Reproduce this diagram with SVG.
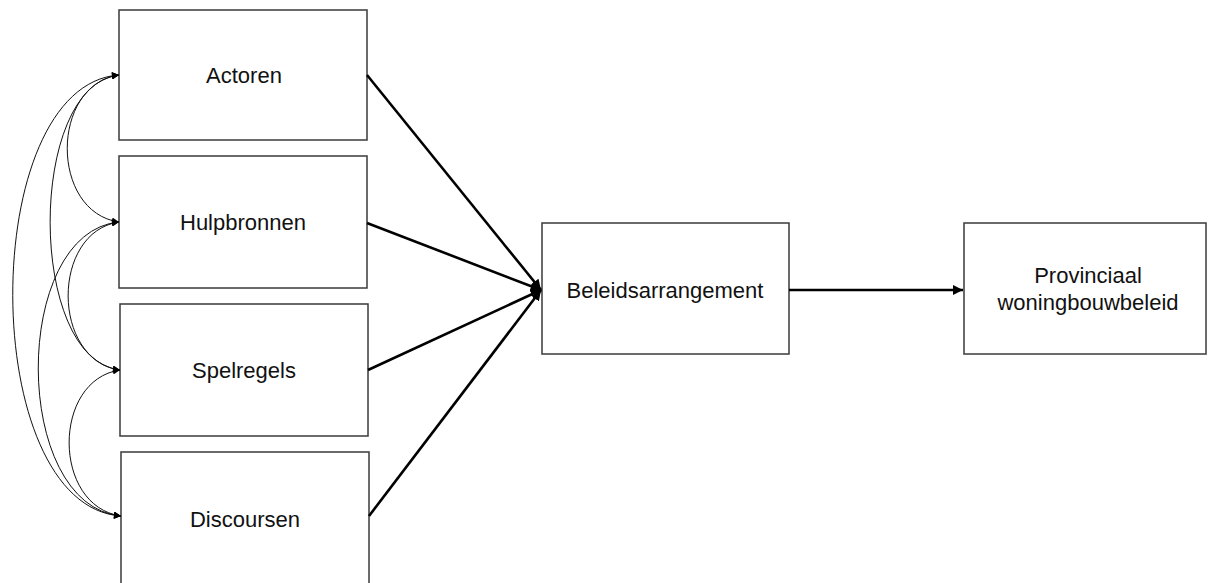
<svg xmlns="http://www.w3.org/2000/svg" width="1208" height="583" viewBox="0 0 1208 583">
<defs>
<style>
.box{fill:#fff;stroke:#3a3a3a;stroke-width:1.5}
.lbl{font-family:"Liberation Sans",Arial,sans-serif;font-size:22px;fill:#111;text-anchor:middle}
.thick{stroke:#000;stroke-width:2.6;fill:none}
.thin{stroke:#111;stroke-width:1;fill:none}
</style>
<marker id="ah" viewBox="0 0 10 10" refX="10" refY="5" markerWidth="4" markerHeight="4" orient="auto-start-reverse" markerUnits="strokeWidth">
<path d="M0,0 L10,5 L0,10 z" fill="#000"/>
</marker>
<marker id="as" viewBox="0 0 10 10" refX="10" refY="5" markerWidth="8" markerHeight="7" orient="auto-start-reverse" markerUnits="userSpaceOnUse">
<path d="M0,0 L10,5 L0,10 z" fill="#000"/>
</marker>
</defs>
<rect width="1208" height="583" fill="#fff"/>
<g id="actoren"><rect class="box" x="119" y="10" width="248" height="130"/><text class="lbl" x="244" y="83">Actoren</text></g>
<g id="hulpbronnen"><rect class="box" x="119" y="156" width="248" height="132"/><text class="lbl" x="243" y="230">Hulpbronnen</text></g>
<g id="spelregels"><rect class="box" x="120" y="304" width="248" height="132"/><text class="lbl" x="244" y="378">Spelregels</text></g>
<g id="discoursen"><rect class="box" x="121" y="452" width="248" height="140"/><text class="lbl" x="245" y="527">Discoursen</text></g>
<g id="beleidsarrangement"><rect class="box" x="542" y="223" width="247" height="131"/><text class="lbl" x="665" y="298">Beleidsarrangement</text></g>
<g id="provinciaal"><rect class="box" x="964" y="223" width="242" height="131"/><text class="lbl" x="1088" y="283">Provinciaal</text><text class="lbl" x="1088" y="310">woningbouwbeleid</text></g>
<g id="connectors">
<line class="thick" x1="367" y1="75" x2="541" y2="290" marker-end="url(#ah)"/>
<line class="thick" x1="367" y1="223" x2="541" y2="290" marker-end="url(#ah)"/>
<line class="thick" x1="368" y1="370" x2="541" y2="290" marker-end="url(#ah)"/>
<line class="thick" x1="369" y1="516" x2="541" y2="290" marker-end="url(#ah)"/>
<line class="thick" x1="789" y1="290" x2="963" y2="290" marker-end="url(#ah)"/>
<path class="thin" d="M119,75 C50,85 50,212 119,222" marker-start="url(#as)" marker-end="url(#as)"/>
<path class="thin" d="M119,222 C51,232 51,360 120,370" marker-start="url(#as)" marker-end="url(#as)"/>
<path class="thin" d="M120,370 C52,380 52,506 121,516" marker-start="url(#as)" marker-end="url(#as)"/>
<path class="thin" d="M119,75 C27,85 27,360 120,370" marker-start="url(#as)" marker-end="url(#as)"/>
<path class="thin" d="M119,222 C11,232 11,506 121,516" marker-start="url(#as)" marker-end="url(#as)"/>
<path class="thin" d="M119,75 C-23,85 -23,506 121,516" marker-start="url(#as)" marker-end="url(#as)"/>
</g>
</svg>
